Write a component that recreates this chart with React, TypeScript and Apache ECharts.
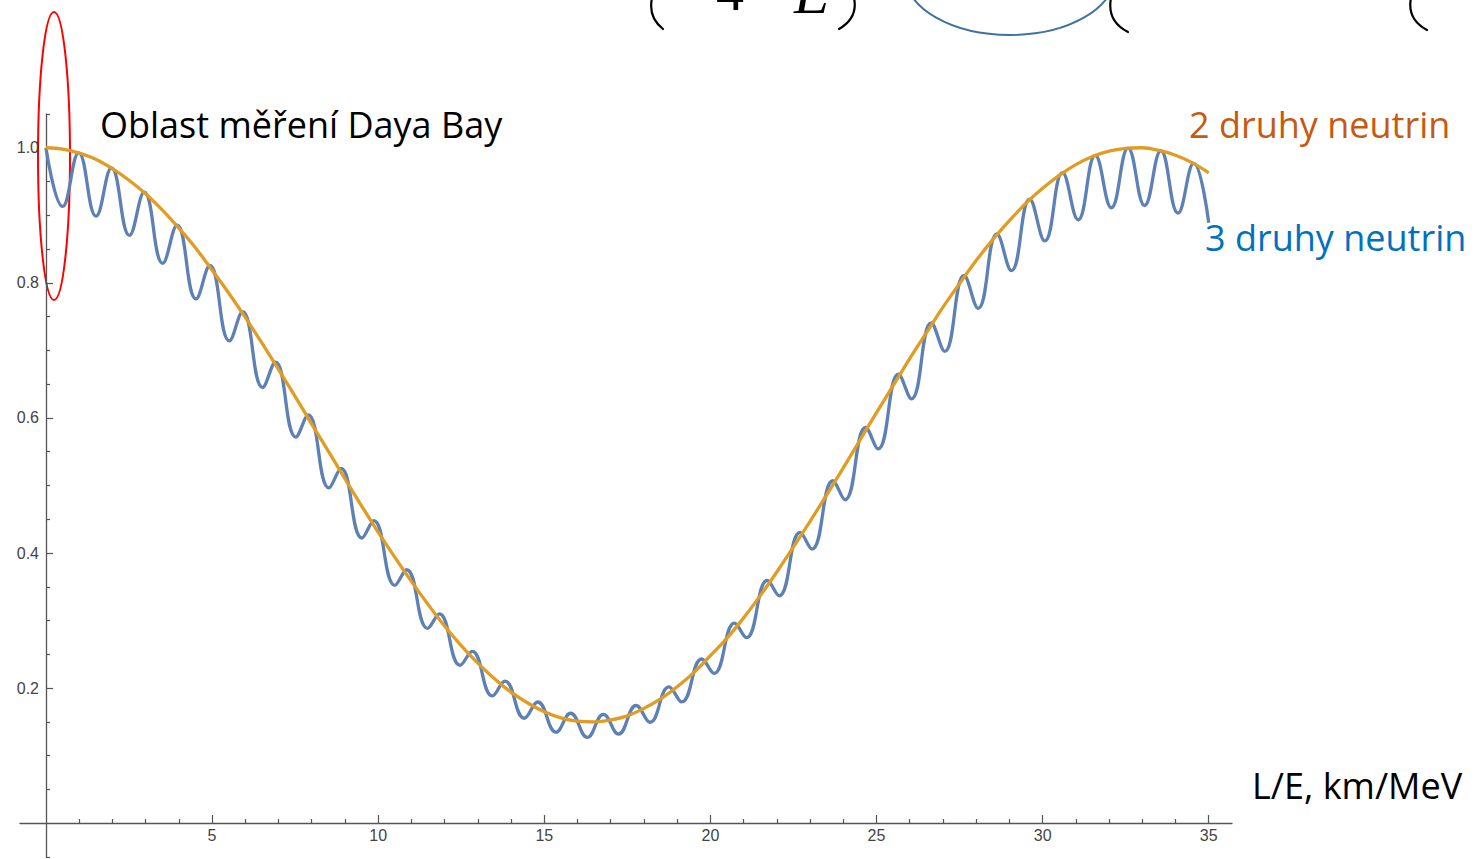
import React, { useEffect, useRef } from "react";
import * as echarts from "echarts";

// ---- data ----
// two-flavour curve (orange), L/E in km/MeV
const twoX = [0, 0.5, 1, 1.5, 2, 2.5, 3, 3.5, 4, 4.5, 5, 5.5, 6, 6.5, 7, 7.5, 8, 8.5, 9, 9.5, 10, 10.5, 11, 11.5, 12, 12.5, 13, 13.5, 14, 14.5, 15, 15.5, 16, 16.5, 17, 17.5, 18, 18.5, 19, 19.5, 20, 20.5, 21, 21.5, 22, 22.5, 23, 23.5, 24, 24.5, 25, 25.5, 26, 26.5, 27, 27.5, 28, 28.5, 29, 29.5, 30, 30.5, 31, 31.5, 32, 32.5, 33, 33.5, 34, 34.5, 35];
const twoY = [1.0, 0.998, 0.992, 0.983, 0.969, 0.952, 0.932, 0.908, 0.881, 0.852, 0.819, 0.785, 0.749, 0.711, 0.672, 0.632, 0.591, 0.551, 0.51, 0.47, 0.431, 0.394, 0.358, 0.324, 0.292, 0.263, 0.237, 0.214, 0.194, 0.178, 0.165, 0.156, 0.151, 0.15, 0.153, 0.159, 0.17, 0.184, 0.202, 0.223, 0.248, 0.274, 0.304, 0.337, 0.372, 0.409, 0.447, 0.486, 0.526, 0.567, 0.608, 0.648, 0.688, 0.726, 0.764, 0.799, 0.833, 0.864, 0.892, 0.918, 0.94, 0.959, 0.975, 0.987, 0.995, 0.999, 1.0, 0.996, 0.989, 0.978, 0.963];

// three-flavour curve (blue): successive maxima and minima
const threeX = [0, 0.503, 0.987, 1.508, 1.974, 2.513, 2.961, 3.515, 3.948, 4.519, 4.935, 5.522, 5.922, 6.523, 6.909, 7.522, 7.896, 8.519, 8.883, 9.513, 9.87, 10.503, 10.857, 11.489, 11.844, 12.467, 12.831, 13.437, 13.818, 14.4, 14.805, 15.354, 15.792, 16.294, 16.779, 17.233, 17.766, 18.18, 18.753, 19.139, 19.74, 20.108, 20.727, 21.084, 21.714, 22.069, 22.701, 23.058, 23.688, 24.051, 24.675, 25.049, 25.662, 26.05, 26.649, 27.053, 27.636, 28.058, 28.623, 29.062, 29.61, 30.066, 30.597, 31.069, 31.584, 32.07, 32.571, 33.07, 33.558, 34.072, 34.545, 35.0];
const threeY = [1.0, 0.9131, 0.9925, 0.8987, 0.9703, 0.8702, 0.9342, 0.8289, 0.8855, 0.7762, 0.8259, 0.7141, 0.7575, 0.6451, 0.6828, 0.5717, 0.6045, 0.4964, 0.5253, 0.4223, 0.448, 0.3522, 0.3753, 0.2885, 0.3098, 0.2339, 0.2544, 0.1884, 0.2103, 0.1554, 0.1795, 0.1348, 0.1628, 0.1271, 0.1611, 0.132, 0.1743, 0.1495, 0.2019, 0.1796, 0.2431, 0.2218, 0.2962, 0.2747, 0.3594, 0.3367, 0.4305, 0.4057, 0.507, 0.4789, 0.5859, 0.5543, 0.6647, 0.6283, 0.7406, 0.6986, 0.8109, 0.7622, 0.8724, 0.8181, 0.9238, 0.8621, 0.9631, 0.8934, 0.9887, 0.9112, 0.9996, 0.9145, 0.9956, 0.9033, 0.9768, 0.889];

// ticks
const xMajorTicks = [5, 10, 15, 20, 25, 30, 35];
const xMinorTicks = [1, 2, 3, 4, 6, 7, 8, 9, 11, 12, 13, 14, 16, 17, 18, 19, 21, 22, 23, 24, 26, 27, 28, 29, 31, 32, 33, 34];
const yMajorTicks = [0.2, 0.4, 0.6, 0.8, 1.0];
const yMinorTicks = [-0.05, 0.05, 0.1, 0.15, 0.25, 0.3, 0.35, 0.45, 0.5, 0.55, 0.65, 0.7, 0.75, 0.85, 0.9, 0.95, 1.05];

// texts
const annotation = "Oblast měření Daya Bay";
const label2 = "2 druhy neutrin";
const label3 = "3 druhy neutrin";
const xTitle = "L/E, km/MeV";

const AXIS_COLOR = "#555555";
const SANS = '"Open Sans", "Noto Sans", sans-serif';
const SERIF = '"Liberation Serif", "DejaVu Serif", serif';
const TICK_FONT = '"Liberation Sans", Arial, sans-serif';

// plot frame (pixels)
const GRID_LEFT = 20;
const GRID_RIGHT = 243;
const GRID_TOP = 114;
const GRID_BOTTOM = 2;
const X_AXIS_OFFSET = -34; // moves the x axis up from the grid bottom to y = 0
const Y_AXIS_OFFSET = -26; // moves the y axis right from the grid left to x = 0

export default function App() {
  const ref = useRef<HTMLDivElement>(null);

  useEffect(() => {
    if (!ref.current) return;
    const chart = echarts.init(ref.current, undefined, { renderer: "svg" });

    const blue = threeX.map((x, i) => [x, threeY[i]]);
    const orange = twoX.map((x, i) => [x, twoY[i]]);

    const xCommon = {
      type: "value",
      min: -0.78,
      max: 35.7,
      position: "bottom",
      offset: X_AXIS_OFFSET,
      splitLine: { show: false },
    };
    const yCommon = {
      type: "value",
      min: -0.05,
      max: 1.05,
      position: "left",
      offset: Y_AXIS_OFFSET,
      splitLine: { show: false },
    };

    const parenStyle = { stroke: "#000000", lineWidth: 2.2, fill: "none", lineCap: "round" };

    chart.setOption({
      animation: false,
      backgroundColor: "#ffffff",
      grid: {
        left: GRID_LEFT,
        right: GRID_RIGHT,
        top: GRID_TOP,
        bottom: GRID_BOTTOM,
        containLabel: false,
        outerBoundsMode: "none",
      },
      xAxis: [
        {
          ...xCommon,
          axisLine: { show: true, onZero: false, lineStyle: { color: AXIS_COLOR, width: 1.3 } },
          axisTick: { show: true, inside: true, length: 8, customValues: xMajorTicks, lineStyle: { color: AXIS_COLOR, width: 1.2 } },
          axisLabel: {
            show: true,
            customValues: xMajorTicks,
            color: "#444444",
            fontSize: 16,
            fontFamily: TICK_FONT,
            margin: 4,
          },
        },
        {
          ...xCommon,
          axisLine: { show: false, onZero: false },
          axisTick: { show: true, inside: true, length: 4, customValues: xMinorTicks, lineStyle: { color: AXIS_COLOR, width: 1.2 } },
          axisLabel: { show: false },
        },
      ],
      yAxis: [
        {
          ...yCommon,
          axisLine: { show: true, onZero: false, lineStyle: { color: AXIS_COLOR, width: 1.3 } },
          axisTick: { show: true, inside: true, length: 7, customValues: yMajorTicks, lineStyle: { color: AXIS_COLOR, width: 1.2 } },
          axisLabel: {
            show: true,
            customValues: yMajorTicks,
            formatter: (v: number) => v.toFixed(1),
            color: "#444444",
            fontSize: 16,
            fontFamily: TICK_FONT,
            margin: 7,
          },
        },
        {
          ...yCommon,
          axisLine: { show: false, onZero: false },
          axisTick: { show: true, inside: true, length: 4, customValues: yMinorTicks, lineStyle: { color: AXIS_COLOR, width: 1.2 } },
          axisLabel: { show: false },
        },
      ],
      series: [
        {
          name: label3,
          type: "line",
          data: blue,
          xAxisIndex: 0,
          yAxisIndex: 0,
          showSymbol: false,
          smooth: 0.45,
          lineStyle: { color: "#5e81b5", width: 3.3 },
          silent: true,
        },
        {
          name: label2,
          type: "line",
          data: orange,
          xAxisIndex: 0,
          yAxisIndex: 0,
          showSymbol: false,
          smooth: 0.3,
          lineStyle: { color: "#e19c24", width: 3.3 },
          silent: true,
        },
      ],
      graphic: [
        {
          type: "text",
          x: 100,
          y: 124,
          style: { text: annotation, fill: "#000000", fontSize: 36, fontFamily: SANS, verticalAlign: "middle", align: "left" },
        },
        {
          type: "text",
          x: 1189,
          y: 124,
          style: { text: label2, fill: "#c55a11", fontSize: 36, fontFamily: SANS, verticalAlign: "middle", align: "left" },
        },
        {
          type: "text",
          x: 1205,
          y: 237,
          style: { text: label3, fill: "#0070c0", fontSize: 36, fontFamily: SANS, verticalAlign: "middle", align: "left" },
        },
        {
          type: "text",
          x: 1252,
          y: 785,
          style: { text: xTitle, fill: "#000000", fontSize: 36, fontFamily: SANS, verticalAlign: "middle", align: "left" },
        },
        {
          type: "ellipse",
          shape: { cx: 54, cy: 156, rx: 16, ry: 144 },
          style: { fill: "none", stroke: "#ff0000", lineWidth: 2 },
        },
        {
          type: "ellipse",
          shape: { cx: 1010, cy: -25, rx: 105, ry: 60 },
          style: { fill: "none", stroke: "#41719c", lineWidth: 2 },
        },
        // cropped fragments of a formula at the top edge
        { type: "bezierCurve", shape: { x1: 652, y1: -2, cpx1: 649, cpy1: 12, cpx2: 654, cpy2: 22, x2: 663, y2: 29 }, style: parenStyle },
        { type: "text", x: 716, y: -9, style: { text: "4", fill: "#000", fontSize: 56, fontFamily: SERIF, verticalAlign: "middle" } },
        { type: "text", x: 794, y: -7, style: { text: "E", fill: "#000", fontSize: 58, fontStyle: "italic", fontFamily: SERIF, verticalAlign: "middle" } },
        { type: "bezierCurve", shape: { x1: 854, y1: -2, cpx1: 857, cpy1: 12, cpx2: 851, cpy2: 22, x2: 839, y2: 29 }, style: parenStyle },
        { type: "bezierCurve", shape: { x1: 1111, y1: -2, cpx1: 1108, cpy1: 14, cpx2: 1114, cpy2: 25, x2: 1128, y2: 32 }, style: parenStyle },
        { type: "bezierCurve", shape: { x1: 1411, y1: -2, cpx1: 1408, cpy1: 13, cpx2: 1414, cpy2: 23, x2: 1427, y2: 30 }, style: parenStyle },
      ],
    });

    return () => chart.dispose();
  }, []);

  return (
    <div
      ref={ref}
      style={{ position: "absolute", left: 0, top: 0, width: 1475, height: 859, background: "#fff" }}
    />
  );
}
